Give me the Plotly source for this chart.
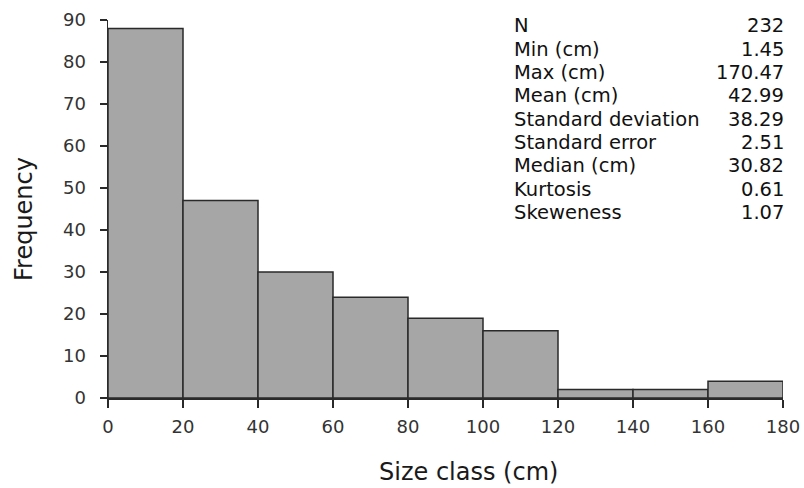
import plotly.graph_objects as go

bin_starts = [0, 20, 40, 60, 80, 100, 120, 140, 160]
bin_width = 20
frequency = [88, 47, 30, 24, 19, 16, 2, 2, 4]

stat_labels = ["N", "Min (cm)", "Max (cm)", "Mean (cm)", "Standard deviation",
               "Standard error", "Median (cm)", "Kurtosis", "Skeweness"]
stat_values = ["232", "1.45", "170.47", "42.99", "38.29", "2.51", "30.82", "0.61", "1.07"]

x_ticks = list(range(0, 181, 20))
y_ticks = list(range(0, 91, 10))

FONT = "DejaVu Sans"
L, R, T, B = 108, 21, 20, 90
W, H = 804, 488
PW, PH = W - L - R, H - T - B

def px_to_paper_y(py):
    return 1 - (py - T) / PH

def px_to_paper_x(px):
    return (px - L) / PW

fig = go.Figure()
fig.add_trace(go.Bar(
    x=[s + bin_width / 2 for s in bin_starts],
    y=frequency,
    width=[bin_width] * len(bin_starts),
    marker=dict(color="#a6a6a6", line=dict(color="#2a2a2a", width=1.5)),
    showlegend=False,
    hoverinfo="skip",
))

annotations = []
for i, (lab, val) in enumerate(zip(stat_labels, stat_values)):
    yp = px_to_paper_y(26 + 23.3 * i)
    annotations.append(dict(x=px_to_paper_x(512), y=yp, xref="paper", yref="paper", text=lab,
                            showarrow=False, xanchor="left", yanchor="middle",
                            font=dict(family=FONT, size=19.5, color="#111111")))
    annotations.append(dict(x=px_to_paper_x(786), y=yp, xref="paper", yref="paper", text=val,
                            showarrow=False, xanchor="right", yanchor="middle",
                            font=dict(family=FONT, size=19.5, color="#111111")))

annotations.append(dict(x=px_to_paper_x(468), y=px_to_paper_y(472), xref="paper", yref="paper",
                        text="Size class (cm)", showarrow=False, xanchor="center", yanchor="middle",
                        font=dict(family=FONT, size=24, color="#1a1a1a")))
annotations.append(dict(x=px_to_paper_x(24), y=px_to_paper_y(219), xref="paper", yref="paper",
                        text="Frequency", showarrow=False, xanchor="center", yanchor="middle",
                        textangle=-90, font=dict(family=FONT, size=24, color="#1a1a1a")))

fig.update_layout(
    width=W, height=H,
    margin=dict(l=L, r=R, t=T, b=B, autoexpand=False),
    paper_bgcolor="white", plot_bgcolor="white",
    bargap=0,
    font=dict(family=FONT, size=18, color="#222222"),
    annotations=annotations,
    xaxis=dict(range=[0, 180], tickvals=x_ticks, showgrid=False, zeroline=False,
               showline=True, linecolor="#2a2a2a", linewidth=1.5, automargin=False,
               ticks="outside", ticklen=8, tickwidth=1.5, tickcolor="#2a2a2a",
               ticklabelstandoff=4,
               tickfont=dict(family=FONT, size=18, color="#333333")),
    yaxis=dict(range=[0, 90], tickvals=y_ticks, showgrid=False, zeroline=False,
               showline=True, linecolor="#2a2a2a", linewidth=1.5, automargin=False,
               ticks="outside", ticklen=7, tickwidth=1.5, tickcolor="#2a2a2a",
               ticklabelstandoff=10,
               tickfont=dict(family=FONT, size=18, color="#333333")),
)

fig.write_html("out.html", config={"displayModeBar": False, "staticPlot": True},
               post_script="document.body.style.margin='0';document.body.style.overflow='hidden';")
